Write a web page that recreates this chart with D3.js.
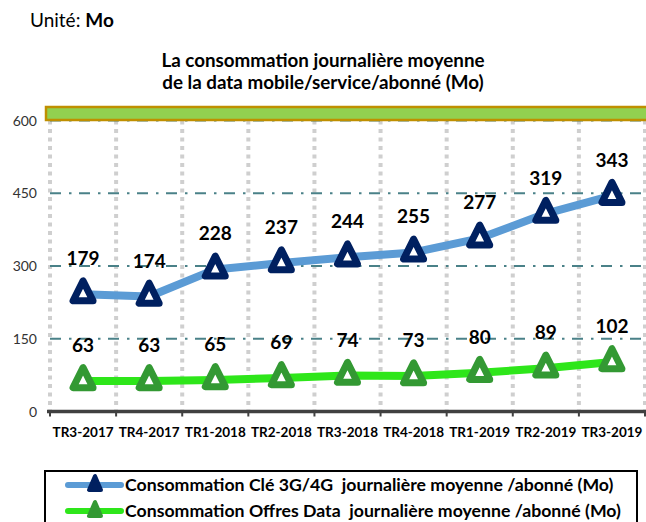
<!DOCTYPE html>
<html><head><meta charset="utf-8">
<script src="https://cdn.jsdelivr.net/npm/d3@7"></script>
<style>body{margin:0;background:#fff;} svg{display:block;font-family:Lato,"Open Sans",sans-serif;}</style>
</head><body>
<script>
const categories = ["TR3-2017","TR4-2017","TR1-2018","TR2-2018","TR3-2018","TR4-2018","TR1-2019","TR2-2019","TR3-2019"];
const cleValues = [179,174,228,237,244,255,277,319,343];
const offresValues = [63,63,65,69,74,73,80,89,102];
const yTicks = [0,150,300,450,600];
const seriesNames = ["Consommation Clé 3G/4G  journalière moyenne /abonné (Mo)","Consommation Offres Data  journalière moyenne /abonné (Mo)"];

const W=646,H=522;
const svg=d3.select("body").append("svg").attr("width",W).attr("height",H);

// stacked line chart: Offres at bottom, Clé stacked on top
const rows=categories.map((c,i)=>({cat:c,offres:offresValues[i],cle:cleValues[i]}));
const stack=d3.stack().keys(["offres","cle"])(rows);

const x=d3.scaleBand().domain(categories).range([50,645]);
const y=d3.scaleLinear().domain([0,600]).range([411.5,120.5]);

// title texts
const u=svg.append("text").attr("x",30).attr("y",27).attr("font-size",19).attr("fill","#000");
u.append("tspan").text("Unité: ");
u.append("tspan").attr("font-weight","bold").text("Mo");
svg.append("text").attr("x",323).attr("y",67).attr("text-anchor","middle").attr("font-size",18.8).attr("font-weight","bold").text("La consommation journalière moyenne");
svg.append("text").attr("x",323).attr("y",89).attr("text-anchor","middle").attr("font-size",18.8).attr("font-weight","bold").text("de la data mobile/service/abonné (Mo)");

// vertical dotted gridlines at band boundaries
const bounds=categories.map(c=>x(c)).concat([x.range()[1]]);
svg.append("g").selectAll("line").data(bounds).join("line")
  .attr("x1",d=>d).attr("x2",d=>d).attr("y1",y(600)).attr("y2",y(0))
  .attr("stroke","#cfcfcf").attr("stroke-width",4).attr("stroke-dasharray","4,4.5");

// horizontal dash-dot gridlines
svg.append("g").selectAll("line").data(yTicks.filter(v=>v>0)).join("line")
  .attr("x1",50).attr("x2",646).attr("y1",d=>y(d)).attr("y2",d=>y(d))
  .attr("stroke","#4a8188").attr("stroke-width",2).attr("stroke-dasharray","11,8,2.5,7.5");

// top band
svg.append("rect").attr("x",46).attr("y",107).attr("width",610).attr("height",13)
  .attr("fill","#92d050").attr("stroke","#bf8f00").attr("stroke-width",2.5);

// y axis labels
svg.append("g").selectAll("text").data(yTicks).join("text")
  .attr("x",37).attr("y",d=>y(d)+5).attr("text-anchor","end").attr("font-size",14).attr("fill","#333")
  .text(d=>d);

// x axis
const xAxis=d3.axisBottom(x).tickSize(0).tickPadding(0);
const gx=svg.append("g").attr("transform",`translate(0,${y(0)})`).call(xAxis);
gx.select(".domain").remove();
gx.selectAll("text").attr("font-size",13.5).attr("font-weight","bold").attr("fill","#000")
  .attr("font-family","Lato,sans-serif").attr("dy","0").attr("y",25);
svg.append("line").attr("x1",47).attr("x2",646).attr("y1",y(0)).attr("y2",y(0)).attr("stroke","#404040").attr("stroke-width",3.5);
svg.append("g").selectAll("line").data(bounds).join("line")
  .attr("x1",d=>d).attr("x2",d=>d).attr("y1",y(0)).attr("y2",y(0)+5).attr("stroke","#404040").attr("stroke-width",2);

const cx=d=>x(d.data.cat)+x.bandwidth()/2;
const line=d3.line().x(cx).y(d=>y(d[1]));
const cfg=[{key:"offres",line:"#2ee61a",mark:"#339933",vals:offresValues},{key:"cle",line:"#5b9bd5",mark:"#002060",vals:cleValues}];
const tri="M0,-13.3L-10,6.7L10,6.7Z";
stack.forEach((s,k)=>{
  const c=cfg[k];
  svg.append("path").datum(s).attr("d",line).attr("fill","none").attr("stroke",c.line)
    .attr("stroke-width",8).attr("stroke-linejoin","round");
});
stack.forEach((s,k)=>{
  const c=cfg[k];
  const g=svg.append("g");
  g.selectAll("path").data(s).join("path").attr("d",tri)
    .attr("transform",d=>`translate(${cx(d)},${y(d[1])})`)
    .attr("fill","#fff").attr("stroke",c.mark).attr("stroke-width",7).attr("stroke-linejoin","round");
  g.selectAll("text").data(s).join("text")
    .attr("x",cx).attr("y",d=>y(d[1])-29).attr("text-anchor","middle")
    .attr("font-size",19).attr("font-weight","bold").attr("fill","#000")
    .text((d,i)=>c.vals[i]);
});

// legend
const lg=svg.append("g");
lg.append("rect").attr("x",45).attr("y",471).attr("width",592).attr("height",60)
  .attr("fill","#fff").attr("stroke","#000").attr("stroke-width",2);
const lcfg=[cfg[1],cfg[0]];
lcfg.forEach((c,i)=>{
  const yy=485+i*26;
  lg.append("line").attr("x1",68).attr("x2",121).attr("y1",yy).attr("y2",yy)
    .attr("stroke",c.line).attr("stroke-width",6).attr("stroke-linecap","round");
  lg.append("path").attr("d","M0,-9L-6,5L6,5Z").attr("transform",`translate(95,${yy})`)
    .attr("fill",c.mark).attr("stroke",c.mark).attr("stroke-width",4).attr("stroke-linejoin","round");
  lg.append("text").attr("x",125).attr("y",yy+6).attr("font-size",17.7).attr("font-weight","bold")
    .attr("xml:space","preserve").style("white-space","pre").text(seriesNames[i]);
});
</script>
</body></html>
